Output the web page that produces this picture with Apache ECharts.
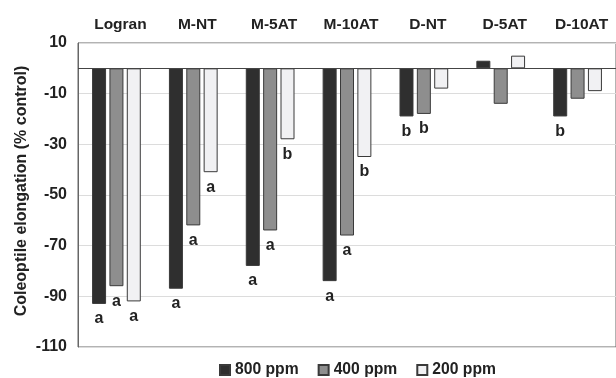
<!DOCTYPE html>
<html>
<head>
<meta charset="utf-8">
<script src="https://cdn.jsdelivr.net/npm/echarts@6/dist/echarts.min.js"></script>
<style>html,body{margin:0;padding:0;background:#fff;}#c{width:616px;height:378px;}</style>
</head>
<body>
<div id="c"></div>
<script>
var categories = ['Logran', 'M-NT', 'M-5AT', 'M-10AT', 'D-NT', 'D-5AT', 'D-10AT'];
var seriesNames = ['800 ppm', '400 ppm', '200 ppm'];
var values800 = [-93, -87, -78, -84, -19, 3, -19];
var values400 = [-86, -62, -64, -66, -18, -14, -12];
var values200 = [-92, -41, -28, -35, -8, 5, -9];
var letters800 = ['a', 'a', 'a', 'a', 'b', '', 'b'];
var letters400 = ['a', 'a', 'a', 'a', 'b', '', ''];
var letters200 = ['a', 'a', 'b', 'b', '', '', ''];
var yTicks = [-110, -90, -70, -50, -30, -10, 10];

var FONT = "'Liberation Sans', Arial, Helvetica, sans-serif";
var chart = echarts.init(document.getElementById('c'));

function mkSeries(name, vals, letters, fill) {
  return {
    name: name,
    type: 'bar',
    data: vals,
    barWidth: 14,
    barGap: '24%',
    barCategoryGap: '39%',
    itemStyle: { color: fill, borderColor: '#3a3a3a', borderWidth: 1 },
    label: {
      show: true,
      position: 'bottom',
      distance: 7,
      formatter: function (p) { return letters[p.dataIndex]; },
      fontFamily: FONT, fontWeight: 'bold', fontSize: 16, color: '#222'
    },
    emphasis: { disabled: true },
    animation: false
  };
}

var series = [
  mkSeries(seriesNames[0], values800, letters800, '#2f2f2f'),
  mkSeries(seriesNames[1], values400, letters400, '#8e8e8e'),
  mkSeries(seriesNames[2], values200, letters200, '#f1f1f3')
];
series[0].markLine = {
  silent: true, symbol: 'none', label: { show: false },
  lineStyle: { color: '#444', width: 1, type: 'solid' },
  data: [{ yAxis: 0 }], animation: false
};

chart.setOption({
  backgroundColor: '#fff',
  animation: false,
  grid: { left: 78, top: 43, right: -5, bottom: 31, show: true, borderColor: '#666', borderWidth: 1, backgroundColor: 'transparent' },
  legend: {
    top: 357, left: 214,
    itemWidth: 10, itemHeight: 10, itemGap: 19,
    icon: 'rect',
    textStyle: { fontFamily: FONT, fontWeight: 'bold', fontSize: 15.7, color: '#222' },
    data: seriesNames
  },
  xAxis: {
    type: 'category', position: 'top', data: categories,
    axisLine: { show: false }, axisTick: { show: false },
    axisLabel: { margin: 10, padding: [0, 0, 0, 8], fontFamily: FONT, fontWeight: 'bold', fontSize: 15.5, color: '#222', interval: 0 }
  },
  yAxis: {
    type: 'value', min: yTicks[0], max: yTicks[yTicks.length - 1], interval: 20,
    name: 'Coleoptile elongation (% control)',
    nameLocation: 'middle', nameGap: 48, nameRotate: 90, nameMoveOverlap: false,
    nameTextStyle: { fontFamily: FONT, fontWeight: 'bold', fontSize: 16, color: '#222', padding: [0, 0, 0, 8] },
    axisLine: { show: true, lineStyle: { color: '#666' } },
    axisTick: { show: false },
    axisLabel: { margin: 11, fontFamily: FONT, fontWeight: 'bold', fontSize: 16, color: '#222' },
    splitLine: { show: true, lineStyle: { color: '#dcdcdc', width: 1 } }
  },
  series: series
});
</script>
</body>
</html>
